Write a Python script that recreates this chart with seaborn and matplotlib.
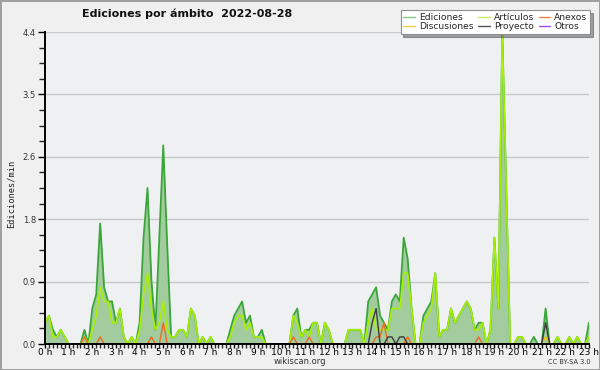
import numpy as np
import pandas as pd
import matplotlib
matplotlib.use("Agg")
import matplotlib.pyplot as plt
from matplotlib.lines import Line2D
from matplotlib.ticker import MultipleLocator, FixedLocator
import seaborn as sns

# ---------------- data (edits per minute, 10-minute steps from 00:00 to 23:00) ----------------
ediciones = [
    0.3, 0.4, 0.2, 0.1, 0.2, 0.1, 0.0, 0.0, 0.0, 0.0, 0.2, 0.0,
    0.5, 0.7, 1.7, 0.8, 0.6, 0.6, 0.3, 0.5, 0.1, 0.0, 0.1, 0.0,
    0.3, 1.5, 2.2, 0.9, 0.2, 1.5, 2.8, 1.4, 0.1, 0.1, 0.2, 0.2,
    0.1, 0.5, 0.4, 0.0, 0.1, 0.0, 0.1, 0.0, 0.0, 0.0, 0.0, 0.2,
    0.4, 0.5, 0.6, 0.3, 0.4, 0.1, 0.1, 0.2, 0.0, 0.0, 0.0, 0.0,
    0.0, 0.0, 0.0, 0.4, 0.5, 0.1, 0.2, 0.2, 0.3, 0.3, 0.0, 0.3,
    0.2, 0.0, 0.0, 0.0, 0.0, 0.2, 0.2, 0.2, 0.2, 0.0, 0.6, 0.7,
    0.8, 0.4, 0.3, 0.2, 0.6, 0.7, 0.6, 1.5, 1.2, 0.5, 0.0, 0.0,
    0.4, 0.5, 0.6, 1.0, 0.1, 0.2, 0.2, 0.5, 0.3, 0.4, 0.5, 0.6,
    0.5, 0.2, 0.3, 0.3, 0.0, 0.2, 1.5, 0.5, 4.4, 2.2, 0.0, 0.0,
    0.1, 0.1, 0.0, 0.0, 0.1, 0.0, 0.0, 0.5, 0.0, 0.0, 0.1, 0.0,
    0.0, 0.1, 0.0, 0.1, 0.0, 0.0, 0.3,
]
articulos = [
    0.3, 0.4, 0.1, 0.1, 0.2, 0.1, 0.0, 0.0, 0.0, 0.0, 0.1, 0.0,
    0.2, 0.4, 0.8, 0.6, 0.6, 0.3, 0.3, 0.5, 0.1, 0.0, 0.1, 0.0,
    0.2, 0.7, 1.0, 0.5, 0.2, 0.3, 0.6, 0.2, 0.1, 0.1, 0.2, 0.2,
    0.1, 0.5, 0.4, 0.0, 0.1, 0.0, 0.1, 0.0, 0.0, 0.0, 0.0, 0.1,
    0.3, 0.4, 0.4, 0.2, 0.3, 0.1, 0.1, 0.1, 0.0, 0.0, 0.0, 0.0,
    0.0, 0.0, 0.0, 0.4, 0.3, 0.1, 0.2, 0.1, 0.3, 0.3, 0.0, 0.3,
    0.2, 0.0, 0.0, 0.0, 0.0, 0.2, 0.2, 0.2, 0.2, 0.0, 0.3, 0.5,
    0.2, 0.2, 0.2, 0.2, 0.5, 0.5, 0.5, 1.0, 1.0, 0.5, 0.0, 0.0,
    0.3, 0.4, 0.5, 1.0, 0.1, 0.2, 0.2, 0.5, 0.3, 0.4, 0.5, 0.6,
    0.5, 0.2, 0.2, 0.3, 0.0, 0.2, 1.5, 0.5, 4.4, 2.2, 0.0, 0.0,
    0.1, 0.1, 0.0, 0.0, 0.0, 0.0, 0.0, 0.0, 0.0, 0.0, 0.1, 0.0,
    0.0, 0.1, 0.0, 0.1, 0.0, 0.0, 0.1,
]
anexos = [
    0.0, 0.0, 0.0, 0.0, 0.0, 0.0, 0.0, 0.0, 0.0, 0.0, 0.1, 0.0,
    0.0, 0.0, 0.1, 0.0, 0.0, 0.0, 0.0, 0.0, 0.0, 0.0, 0.0, 0.0,
    0.0, 0.0, 0.0, 0.1, 0.0, 0.0, 0.3, 0.0, 0.0, 0.0, 0.0, 0.0,
    0.0, 0.0, 0.0, 0.0, 0.0, 0.0, 0.0, 0.0, 0.0, 0.0, 0.0, 0.0,
    0.0, 0.0, 0.0, 0.0, 0.0, 0.0, 0.0, 0.0, 0.0, 0.0, 0.0, 0.0,
    0.0, 0.0, 0.0, 0.1, 0.0, 0.0, 0.0, 0.1, 0.0, 0.0, 0.0, 0.0,
    0.0, 0.0, 0.0, 0.0, 0.0, 0.0, 0.0, 0.0, 0.0, 0.0, 0.0, 0.0,
    0.1, 0.1, 0.3, 0.0, 0.0, 0.0, 0.0, 0.0, 0.1, 0.0, 0.0, 0.0,
    0.0, 0.0, 0.0, 0.0, 0.0, 0.0, 0.0, 0.0, 0.0, 0.0, 0.0, 0.0,
    0.0, 0.0, 0.1, 0.0, 0.0, 0.0, 0.0, 0.0, 0.0, 0.0, 0.0, 0.0,
    0.0, 0.0, 0.0, 0.0, 0.0, 0.0, 0.0, 0.0, 0.0, 0.0, 0.0, 0.0,
    0.0, 0.0, 0.0, 0.0, 0.0, 0.0, 0.0,
]
discusiones = [
    0.0, 0.0, 0.0, 0.0, 0.0, 0.0, 0.0, 0.0, 0.0, 0.0, 0.0, 0.0,
    0.0, 0.0, 0.0, 0.0, 0.0, 0.0, 0.0, 0.0, 0.0, 0.0, 0.0, 0.0,
    0.0, 0.0, 0.0, 0.0, 0.0, 0.0, 0.0, 0.0, 0.0, 0.0, 0.0, 0.0,
    0.0, 0.0, 0.0, 0.0, 0.0, 0.0, 0.0, 0.0, 0.0, 0.0, 0.0, 0.0,
    0.0, 0.0, 0.0, 0.0, 0.0, 0.0, 0.0, 0.0, 0.0, 0.0, 0.0, 0.0,
    0.0, 0.0, 0.0, 0.0, 0.0, 0.0, 0.0, 0.0, 0.0, 0.0, 0.0, 0.0,
    0.0, 0.0, 0.0, 0.0, 0.0, 0.0, 0.0, 0.0, 0.0, 0.0, 0.0, 0.0,
    0.0, 0.0, 0.0, 0.0, 0.0, 0.0, 0.0, 0.0, 0.0, 0.0, 0.0, 0.0,
    0.0, 0.0, 0.0, 0.0, 0.0, 0.0, 0.0, 0.0, 0.0, 0.0, 0.0, 0.0,
    0.0, 0.0, 0.0, 0.0, 0.0, 0.0, 0.0, 0.0, 0.0, 0.0, 0.0, 0.0,
    0.0, 0.0, 0.0, 0.0, 0.0, 0.0, 0.0, 0.1, 0.0, 0.0, 0.0, 0.0,
    0.0, 0.0, 0.0, 0.0, 0.0, 0.0, 0.0,
]
proyecto = [
    0.0, 0.0, 0.0, 0.0, 0.0, 0.0, 0.0, 0.0, 0.0, 0.0, 0.0, 0.0,
    0.0, 0.0, 0.0, 0.0, 0.0, 0.0, 0.0, 0.0, 0.0, 0.0, 0.0, 0.0,
    0.0, 0.0, 0.0, 0.0, 0.0, 0.0, 0.0, 0.0, 0.0, 0.0, 0.0, 0.0,
    0.0, 0.0, 0.0, 0.0, 0.0, 0.0, 0.0, 0.0, 0.0, 0.0, 0.0, 0.0,
    0.0, 0.0, 0.0, 0.0, 0.0, 0.0, 0.0, 0.0, 0.0, 0.0, 0.0, 0.0,
    0.0, 0.0, 0.0, 0.0, 0.0, 0.0, 0.0, 0.0, 0.0, 0.0, 0.0, 0.0,
    0.0, 0.0, 0.0, 0.0, 0.0, 0.0, 0.0, 0.0, 0.0, 0.0, 0.0, 0.3,
    0.5, 0.0, 0.0, 0.1, 0.1, 0.0, 0.1, 0.1, 0.0, 0.0, 0.0, 0.0,
    0.0, 0.0, 0.0, 0.0, 0.0, 0.0, 0.0, 0.0, 0.0, 0.0, 0.0, 0.0,
    0.0, 0.0, 0.0, 0.0, 0.0, 0.0, 0.0, 0.0, 0.0, 0.0, 0.0, 0.0,
    0.0, 0.0, 0.0, 0.0, 0.0, 0.0, 0.0, 0.3, 0.0, 0.0, 0.0, 0.0,
    0.0, 0.0, 0.0, 0.0, 0.0, 0.0, 0.0,
]
otros = [0.0] * len(ediciones)

y_ticks = [0.0, 0.88, 1.76, 2.64, 3.52, 4.4]
y_tick_labels = ["0.0", "0.9", "1.8", "2.6", "3.5", "4.4"]
hour_labels = [f"{h} h" for h in range(24)]
series_names = ["Ediciones", "Discusiones", "Artículos", "Proyecto", "Anexos", "Otros"]

# ---------------- style ----------------
sns.set_style("ticks")
plt.rcParams["font.family"] = ["DejaVu Sans"]

fig = plt.figure(figsize=(6.0, 3.7), dpi=100)
fig.patch.set_facecolor("#f0f0f0")
fig.patch.set_edgecolor("#a0a0a0")
fig.patch.set_linewidth(2)

ax = fig.add_axes([45 / 600, 1 - 344 / 370, (589 - 45) / 600, (344 - 32) / 370])
ax.set_facecolor("#eef0f2")

hours = np.arange(len(ediciones)) / 6.0
df = pd.DataFrame({
    "hora": hours,
    "Ediciones": ediciones,
    "Artículos": articulos,
    "Anexos": anexos,
    "Discusiones": discusiones,
    "Proyecto": proyecto,
    "Otros": otros,
})

ax.fill_between(df["hora"], df["Ediciones"], 0, color="#a2cc9e", linewidth=0, zorder=1)
line_colors = {
    "Ediciones": "#3aa63a",
    "Otros": "#9040ee",
    "Discusiones": "#e8c800",
    "Anexos": "#ee6a22",
    "Proyecto": "#3c3c3c",
    "Artículos": "#a6f000",
}
sns.lineplot(data=df, x="hora", y="Ediciones", ax=ax, color=line_colors["Ediciones"],
             linewidth=1.3, legend=False, zorder=3)
sns.lineplot(data=df, x="hora", y="Artículos", ax=ax, color=line_colors["Artículos"],
             linewidth=1.2, legend=False, zorder=4)
for name in ["Otros", "Discusiones", "Anexos", "Proyecto"]:
    sns.lineplot(data=df, x="hora", y=name, ax=ax, color=line_colors[name],
                 linewidth=1.0, legend=False, zorder=5)

ax.set_xlim(0, hours[-1])
ax.set_ylim(0, 4.4)
ax.set_xlabel("")
ax.set_ylabel("")

ax.yaxis.set_major_locator(FixedLocator(y_ticks))
ax.set_yticklabels(y_tick_labels)
ax.yaxis.set_minor_locator(MultipleLocator(0.22))
ax.xaxis.set_major_locator(FixedLocator(list(range(24))))
ax.set_xticklabels(hour_labels)
ax.xaxis.set_minor_locator(MultipleLocator(1 / 6))

ax.grid(axis="y", color="#c8c8c8", linewidth=1.0)
ax.set_axisbelow(True)
for s in ["top", "right"]:
    ax.spines[s].set_visible(False)
for s in ["left", "bottom"]:
    ax.spines[s].set_color("black")
    ax.spines[s].set_linewidth(1.4)
    ax.spines[s].set_zorder(6)

ax.tick_params(axis="y", which="major", length=5, width=1, labelsize=6, pad=1.5, colors="black")
ax.tick_params(axis="y", which="minor", length=4, width=1)
ax.tick_params(axis="x", which="major", length=3, width=1, labelsize=6.5, pad=0.2, colors="black")
ax.tick_params(axis="x", which="minor", length=3, width=1)
for lab in ax.get_yticklabels():
    lab.set_color("#333333")

# ---------------- texts ----------------
fig.text(0.3125, 0.962, "Ediciones por ámbito  2022-08-28", ha="center", va="center",
         fontsize=8, fontweight="bold", color="#111111")
fig.text(11 / 600, 1 - 194 / 370, "Ediciones/min", rotation=90, ha="center", va="center",
         fontsize=6.2, family="DejaVu Sans Mono", color="#222222")
fig.text(300 / 600, 1 - 362 / 370, "wikiscan.org", ha="center", va="center",
         fontsize=6, color="#333333")
fig.text(569 / 600, 1 - 362.5 / 370, "CC BY-SA 3.0", ha="center", va="center",
         fontsize=4.8, color="#333333")

legend_colors = {
    "Ediciones": "#84c884",
    "Discusiones": "#f0d040",
    "Artículos": "#c4f060",
    "Proyecto": "#555555",
    "Anexos": "#f08048",
    "Otros": "#9a48f0",
}
handles = [Line2D([0], [0], color=legend_colors[n], linewidth=1.0) for n in series_names]
leg = fig.legend(handles, series_names, loc="upper right",
                 bbox_to_anchor=(590 / 600, 1 - 10 / 370), bbox_transform=fig.transFigure,
                 ncol=3, fontsize=6.6, frameon=True, fancybox=False, shadow=True,
                 handlelength=1.3, handletextpad=0.4, columnspacing=0.5,
                 labelspacing=0.05, borderpad=0.3, borderaxespad=0)
leg.get_frame().set_edgecolor("#909090")
leg.get_frame().set_facecolor("white")
leg.get_frame().set_linewidth(0.8)

fig.savefig("out.png", dpi=100, facecolor=fig.get_facecolor(), edgecolor=fig.get_edgecolor())
